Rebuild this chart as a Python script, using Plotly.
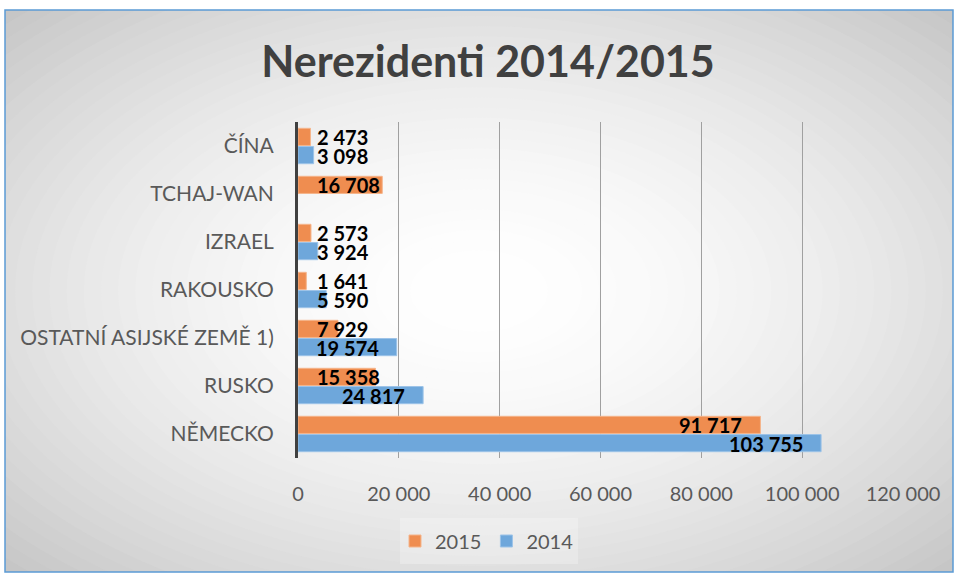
import plotly.graph_objects as go

# data (bottom to top as drawn)
countries = ['NĚMECKO', 'RUSKO', 'OSTATNÍ ASIJSKÉ ZEMĚ 1)', 'RAKOUSKO', 'IZRAEL', 'TCHAJ-WAN', 'ČÍNA']
values_2014 = [103755, 24817, 19574, 5590, 3924, None, 3098]
values_2015 = [91717, 15358, 7929, 1641, 2573, 16708, 2473]

COLORS = {'2015': '#EF8D50', '2014': '#6EA7DB'}
FONT = 'Lato, Carlito, sans-serif'

# pixel layout of the plot area
W, H = 958, 574
L, R, T, B = 298, 903, 122, 458
XMAX = 120000


def px_x(px):
    return (px - L) / (R - L)


def px_y(py):
    return (B - py) / (B - T)


def fmt(v):
    return f'{v:,}'.replace(',', ' ')


fig = go.Figure()
fig.add_trace(go.Bar(
    y=countries, x=values_2014, name='2014', orientation='h',
    marker=dict(color=COLORS['2014'], line=dict(color='#9cc3e8', width=1)),
    legendrank=2,
))
fig.add_trace(go.Bar(
    y=countries, x=values_2015, name='2015', orientation='h',
    marker=dict(color=COLORS['2015'], line=dict(color='#f5b48a', width=1)),
    legendrank=1,
))

# data labels
annotations = []
for vals, shift in [(values_2014, -9.5), (values_2015, 9.5)]:
    for c, v in zip(countries, vals):
        if v is None:
            continue
        txt = fmt(v)
        text_w = sum(5 if ch == ' ' else 11.6 for ch in txt)
        bar_w = v / XMAX * (R - L)
        if bar_w >= text_w + 32:
            ax, anchor, xs = v, 'right', -16
        else:
            ax, anchor, xs = 0, 'left', 17
        annotations.append(dict(
            x=ax, y=c, xref='x', yref='y', text=f'<b>{txt}</b>', showarrow=False,
            xanchor=anchor, yanchor='middle', xshift=xs, yshift=shift,
            font=dict(family=FONT, size=20, color='#000000'),
        ))

# radial gradient background + border
shapes = []
x0, x1 = px_x(5), px_x(953)
y0, y1 = px_y(572), px_y(10)
cx, cy = (x0 + x1) / 2, (y0 + y1) / 2
hx, hy = (x1 - x0) / 2 * 1.45, (y1 - y0) / 2 * 1.45
N = 40
for i in range(N):
    t = 1 - i / N
    g = int(255 - (255 - 196) * t ** 1.8)
    shapes.append(dict(
        type='circle', xref='paper', yref='paper', layer='below',
        x0=cx - hx * t, x1=cx + hx * t, y0=cy - hy * t, y1=cy + hy * t,
        fillcolor=f'rgb({g},{g},{g})', line=dict(width=0),
    ))
# white outside the chart frame
for a, b, c, d in [(px_x(0), px_x(5), px_y(H), px_y(0)),
                   (px_x(953), px_x(W), px_y(H), px_y(0)),
                   (px_x(0), px_x(W), px_y(10), px_y(0)),
                   (px_x(0), px_x(W), px_y(H), px_y(572))]:
    shapes.append(dict(type='rect', xref='paper', yref='paper', layer='below',
                       x0=a, x1=b, y0=c, y1=d, fillcolor='white', line=dict(width=0)))
shapes.append(dict(type='rect', xref='paper', yref='paper', layer='below',
                   x0=x0, x1=x1, y0=y0, y1=y1, fillcolor='rgba(0,0,0,0)',
                   line=dict(color='#5B9BD5', width=1.5)))
# legend box
shapes.append(dict(type='rect', xref='paper', yref='paper', layer='below',
                   x0=px_x(400), x1=px_x(578), y0=px_y(564), y1=px_y(518),
                   fillcolor='rgba(255,255,255,0.25)', line=dict(width=0)))

fig.update_layout(
    width=W, height=H,
    margin=dict(l=L, r=W - R, t=T, b=H - B, pad=0),
    paper_bgcolor='white',
    plot_bgcolor='rgba(0,0,0,0)',
    separators=', ',
    font=dict(family=FONT, color='#595959', size=20),
    title=dict(text='<b>Nerezidenti 2014/2015</b>', x=488 / W, y=1 - 62 / H,
               xref='container', yref='container', xanchor='center', yanchor='middle',
               font=dict(family=FONT, size=43, color='#404040')),
    barmode='group',
    bargap=0.24,
    bargroupgap=0.06,
    xaxis=dict(range=[0, XMAX], dtick=20000, tickformat=',d', showgrid=True,
               gridcolor='#a0a0a0', gridwidth=1, zeroline=False, showline=False,
               ticklabelstandoff=22, tickfont=dict(size=20, color='#595959')),
    yaxis=dict(showline=True, linecolor='#404040', linewidth=3, showgrid=False,
               ticklabelstandoff=17, tickfont=dict(size=21, color='#595959')),
    legend=dict(orientation='h', x=487 / W, y=1 - 541 / H, xref='container', yref='container',
                xanchor='center', yanchor='middle', bgcolor='rgba(0,0,0,0)',
                font=dict(size=20, color='#595959'), itemwidth=30),
    annotations=annotations,
    shapes=shapes,
    showlegend=True,
)

fig.write_html('out.html', config={'displayModeBar': False},
               post_script="document.body.style.margin='0';")
